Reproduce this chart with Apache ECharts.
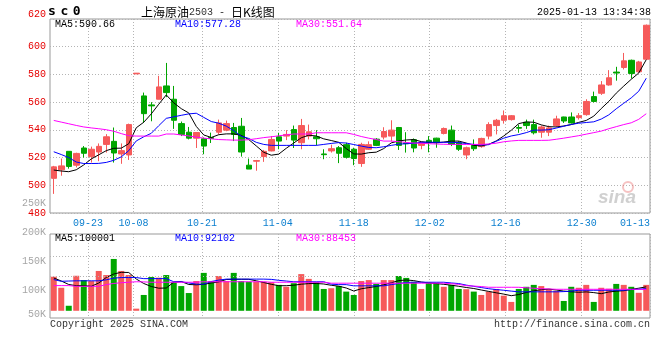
<!DOCTYPE html>
<html><head><meta charset="utf-8">
<script src="https://cdn.jsdelivr.net/npm/echarts@6/dist/echarts.min.js"></script>
<style>html,body{margin:0;padding:0;background:#fff}#c{width:660px;height:360px}</style>
</head><body><div id="c"></div>
<script>
const dates = ['09-12','09-13','09-18','09-19','09-20','09-23','09-24','09-25','09-26','09-27','09-30',
'10-08','10-09','10-10','10-11','10-14','10-15','10-16','10-17','10-18','10-21','10-22','10-23','10-24','10-25','10-28','10-29','10-30','10-31',
'11-01','11-04','11-05','11-06','11-07','11-08','11-11','11-12','11-13','11-14','11-15','11-18','11-19','11-20','11-21','11-22','11-25','11-26','11-27','11-28','11-29',
'12-02','12-03','12-04','12-05','12-06','12-09','12-10','12-11','12-12','12-13','12-16','12-17','12-18','12-19','12-20','12-23','12-24','12-25','12-26','12-27','12-30','12-31',
'01-02','01-03','01-06','01-07','01-08','01-09','01-10','01-13'];
const tickLabels = ['09-23','10-08','10-21','11-04','11-18','12-02','12-16','12-30','01-13'];

const open = [505,511.2,524.5,514.5,526.9,520.7,524,529.5,531.7,522.6,
521.9,580.4,564.5,558,562.1,571.7,562.1,544.5,538.3,534,
533.6,534.5,538.3,539.8,541.7,542.6,514.5,517.4,520.7,524.8,
535,535.5,540.2,530.7,535.5,535,522.6,524.8,527.1,529.3,
526,515.7,526,533.3,534.8,535.5,541.7,530.5,532.9,528.8,
532.4,534,537.4,539.8,530.7,521.9,528.8,527.9,535.5,543.1,
546.9,547.4,541.7,545.5,543.8,538.3,538.3,543.1,549.3,549.3,
548.8,551,564,566.4,572.4,581.7,585,590.2,581.9,591];
const close = [513.3,514,513.6,523,523.1,526,528.1,535,523.3,525,
543.8,580.9,551.7,557.3,571,566.9,546.9,536.7,534,538.1,
528.3,533.8,545,544.5,536.7,524,511.7,517.8,524.5,533.1,
531.9,536.7,532.6,543.1,538.6,533.6,522.1,526.4,523.1,520.2,
519.3,529.5,529.3,528.8,538.8,539.8,528.8,530,526.9,530.7,
530.7,530.7,541,529.5,526,527.1,526.4,533.8,543.8,546.9,
550.2,550.2,541.2,543.1,537.9,542.1,541.4,547.9,546.4,545,
550.2,560.5,560.5,572.4,577.6,581,589.8,580.7,589,615.5];
const low = [493.8,506.9,512,512.9,520,516.4,517.4,523.6,516.4,515.5,
518.3,580.4,545,546.2,562,563.6,540.7,535.5,533.1,526.9,
522.4,530.5,536.7,539,531.9,520.7,511.7,510.5,516.9,524.5,
526,532.6,526.9,526,533.1,528.8,518.8,523.6,516,519.3,
514.5,513.3,525.5,528.3,533.1,531.7,525.5,523.6,523.8,526,
523.8,527.1,536.7,528.3,524.8,518.8,524.8,527.1,533.1,536.7,
544.5,546.7,537.9,540.7,536.7,534.3,535.5,542.1,545,544.5,
547.4,550.2,559.8,565.2,571.9,575.5,583.6,577.1,581.4,590.5];
const high = [514,519.3,524.5,523.5,528.3,527.9,530.2,536.9,541.7,530.2,
544.5,580.9,566.9,560,579,588.3,571.7,546,542.1,538.3,
534.5,538,547.4,546.7,545,548.6,519.3,518.3,525.5,535.5,
537.9,539.8,543.1,547.9,543.8,539.8,526,529.3,528.3,530.7,
527.1,530.7,531.7,534,541.9,546.9,542.1,538.3,533.8,531.2,
535.5,534.3,541.7,543.1,531.9,527.9,533.1,534.3,545.5,547.9,
554,550.7,543.8,547.4,547.4,543.1,543.1,550.2,549.5,552.6,
552.1,562.1,567.6,575.2,583.1,585.5,595.5,590.7,589.8,616];

const ma5 = [511,510.3,509.8,511.2,514.7,519,522,525,526.7,526.8,
530,541.5,545.5,551.5,558.5,565.2,559.5,555.3,552.2,542.5,
536.3,534.5,536.5,537.1,537.1,536,533,528.4,523.8,521.7,
522.5,526.7,530.5,534.3,536.1,535.6,533.5,532.3,531,526.5,
522.6,522.5,523.5,523.9,526.5,530.6,532,532.7,533,531.5,
530.9,530.7,531.2,531.9,531.9,530.5,528.8,528.4,529.6,532,
535.6,539.7,544.5,545.7,545.5,543.6,542.3,542.1,542.8,543.8,
545.4,546.8,549.9,555.4,560.5,566.5,571.6,576.5,581,590.66];
const ma10 = [524.2,522.2,520,516.8,515.7,515.7,515.8,516.5,518,520.5,
525,532,535,537.5,543,548.3,549.4,550.5,551.5,552,
549,546,544.8,542.7,539.4,535.4,533.8,531,529.5,528.8,
528.8,528.8,528.8,528.8,528.8,528.8,529.5,530.2,530.8,530.5,
529.4,528.3,527.3,527.1,527.8,528.8,529.7,530,530.3,531,
531.1,531,531,531,530.8,530.1,529.5,529.1,529.3,531.8,
534,535.6,536.6,538,539.8,539.8,540.1,541.3,542.6,543.9,
544.8,545.3,545.8,547.8,550.8,555.2,559.2,563.1,567.9,577.28];
const ma30 = [546.8,545.6,544.4,543.2,542.1,541.4,540.8,540.1,539,537.3,
535.8,535.5,535.5,535.5,535.5,537,537,536.3,535.6,534.8,
534,533.5,533,532.8,532.6,532.6,532.9,533.6,534.4,535,
535.7,536.4,537,537,537,537.9,537.9,537.9,537.9,537.9,
536.7,535.2,534,533,531.9,531.9,531.5,530.9,530.5,530.3,
530,529.8,529.6,529.5,529.5,529.5,529.5,529.5,529.8,530.4,
531.4,532,532.4,532.4,532.4,532.4,532.5,533.2,534,534.9,
535.8,536.9,538,539.1,540.8,542.3,543.8,545.1,547.6,551.64];

const volume = [142000,96000,21000,146000,128000,124000,166000,149000,216000,166000,
149000,9000,66000,141000,138000,149000,119000,103000,74000,124000,
158000,124000,145000,124000,158000,124000,121000,121000,121000,119000,
108000,100000,115000,153000,133000,119000,91000,94000,103000,80000,
66000,124000,128000,112000,128000,128000,145000,137000,121000,91000,
117000,117000,100000,108000,91000,90000,80000,66000,80000,91000,
63000,37000,91000,100000,108000,103000,91000,83000,41000,100000,
96000,108000,37000,96000,92000,112000,108000,100000,75000,108000];
const volMa5 = [136700,124200,109600,104600,104600,102100,115800,138800,153300,160400,
159600,132500,113800,101300,94200,95000,119200,122100,109600,108300,
110400,115800,120400,130400,131300,131300,131300,125000,117900,110400,
104600,104600,106700,110800,113300,113800,111700,106300,102500,95000,
82500,91700,96700,101300,108300,116700,125800,128300,125800,120000,
116300,113300,110400,106700,102100,97100,92900,86700,80800,75000,
69600,62900,67900,76300,83300,87900,90400,86700,82100,79200,
77100,78800,75800,71300,78300,81700,83800,89200,94200,100001];
const volMa10 = [130000,123000,124000,125000,125000,125000,125000,129000,136000,138500,
138500,138500,134000,134000,134000,134000,121000,121000,116000,111000,
111000,122000,128000,132000,132000,132000,132000,132000,132000,131000,
127000,124000,121000,121000,121000,121000,121000,111000,109000,109000,
104000,104000,104000,104000,104000,109000,113500,118000,119000,119000,
119000,119000,119000,116000,113500,107000,102000,97000,92000,88500,
85600,82000,79000,79000,79000,79000,79000,79000,80000,82000,
85600,85600,85600,85600,85600,85600,85600,88500,90000,92102];
const volMa30 = [105000,105000,105000,102000,102000,102000,102000,109000,114000,117000,
119000,121000,120500,119000,119000,119000,119000,119000,119000,119000,
121000,121000,121000,121000,121000,121000,121000,121000,121000,119000,
119000,119000,119000,119000,119000,119000,119000,115000,115000,115000,
115000,115000,115000,115000,115000,115000,115000,115000,115000,115000,
115000,115000,115000,113000,110000,104600,103000,101000,98000,98000,
98000,98000,98000,96000,94000,92000,91000,89600,89600,89600,
89600,89600,89600,89600,89600,89600,89600,89600,89600,88453];

const UP = '#f65a5a', DOWN = '#00a600';
const MONO = '"Liberation Mono", "DejaVu Sans Mono", monospace';
const GRIDC = '#b4b4b4';
const labelSet = new Set(tickLabels);
const last = a => a[a.length - 1];

const candleData = dates.map((d, i) => [open[i], close[i], low[i], high[i]]);
const volData = volume.map((v, i) => ({ value: v, itemStyle: { color: close[i] >= open[i] ? UP : DOWN } }));

const hiddenCat = (gi, pos) => ({ type: 'category', gridIndex: gi, data: dates, boundaryGap: true, position: pos,
  axisLine: { show: false }, axisTick: { show: false }, axisLabel: { show: false }, splitLine: { show: false } });
const gridCat = (gi, showLabel) => ({ type: 'category', gridIndex: gi, data: dates, boundaryGap: false, position: 'bottom',
  axisLine: { show: false }, axisTick: { show: false },
  axisLabel: { show: showLabel, interval: (i, v) => labelSet.has(v), color: '#0b7fcf', fontFamily: MONO, fontSize: 10, margin: 5, alignMaxLabel: 'right' },
  splitLine: { show: true, interval: (i, v) => labelSet.has(v), lineStyle: { color: GRIDC, width: 1, type: [1, 2] } } });
const lineS = (xi, yi, data, color) => ({ type: 'line', xAxisIndex: xi, yAxisIndex: yi, data, symbol: 'none', showSymbol: false,
  silent: true, lineStyle: { width: 1, color }, itemStyle: { color }, z: 3 });
const txt = (x, y, text, fill, extra) => ({ type: 'text', x, y, silent: true, z: 10,
  style: Object.assign({ text, fill, font: '10px ' + MONO, align: 'left', verticalAlign: 'middle' }, extra || {}) });

const chart = echarts.init(document.getElementById('c'), null, { renderer: 'canvas' });
chart.setOption({
  animation: false,
  backgroundColor: '#ffffff',
  grid: [
    { left: 50, right: 10, top: 19, bottom: 147, show: true, borderColor: '#999', borderWidth: 1, outerBoundsMode: 'none', containLabel: false },
    { left: 50, right: 10, top: 234, bottom: 42, show: true, borderColor: '#999', borderWidth: 1, outerBoundsMode: 'none', containLabel: false },
    { left: 50, right: 10, top: 203, bottom: 41, show: false, outerBoundsMode: 'none', containLabel: false }
  ],
  xAxis: [
    hiddenCat(0, 'top'),
    gridCat(0, true),
    hiddenCat(1, 'top'),
    gridCat(1, false),
    { type: 'value', gridIndex: 2, min: 0, max: 1, show: false }
  ],
  yAxis: [
    { type: 'value', gridIndex: 0, min: 480, max: 620, interval: 20, scale: true,
      axisLine: { show: false }, axisTick: { show: false },
      axisLabel: { color: '#e60000', fontFamily: MONO, fontSize: 10, margin: 4, verticalAlignMaxLabel: 'bottom' },
      splitLine: { show: true, lineStyle: { color: GRIDC, width: 1, type: [1, 2] } } },
    { type: 'value', gridIndex: 1, min: -30000, max: 320000,
      axisLine: { show: false }, axisTick: { show: false }, axisLabel: { show: false }, splitLine: { show: false } },
    { type: 'value', gridIndex: 2, min: 50000, max: 250000, interval: 50000,
      axisLine: { show: false }, axisTick: { show: false }, splitLine: { show: false },
      axisLabel: { formatter: v => (v / 1000) + 'K', color: '#a6a6a6', fontFamily: MONO, fontSize: 10, margin: 4, verticalAlignMinLabel: 'bottom' } }
  ],
  series: [
    { type: 'candlestick', xAxisIndex: 0, yAxisIndex: 0, data: candleData, barWidth: 6, silent: true,
      itemStyle: { color: UP, color0: DOWN, borderColor: UP, borderColor0: DOWN, borderWidth: 1 } },
    lineS(0, 0, ma5, '#000000'),
    lineS(0, 0, ma10, '#0000ff'),
    lineS(0, 0, ma30, '#ff00ff'),
    { type: 'bar', xAxisIndex: 2, yAxisIndex: 1, data: volData, barWidth: 6, silent: true,
      markLine: { silent: true, symbol: 'none', label: { show: false },
        lineStyle: { color: GRIDC, width: 1, type: [1, 2] },
        data: [{ yAxis: 145000 }, { yAxis: 228000 }] } },
    lineS(2, 1, volMa5, '#000000'),
    lineS(2, 1, volMa10, '#0000ff'),
    lineS(2, 1, volMa30, '#ff00ff')
  ],
  graphic: [
    { type: 'text', x: 48, y: 12, silent: true, z: 10,
      style: { text: '{c|s}{c|c}{c|0}', verticalAlign: 'middle', align: 'left',
        rich: { c: { width: 12.4, align: 'left', font: 'bold 13px "DejaVu Sans Mono", monospace', fill: '#000' } } } },
    { type: 'text', x: 141, y: 12, silent: true, z: 10,
      style: { text: '{a|上海原油}{b|2503 - }{a|日K线图}', verticalAlign: 'middle', align: 'left',
        rich: { a: { font: '12px "Noto Sans CJK SC", sans-serif', fill: '#000' },
                b: { font: '10px ' + MONO, fill: '#333' } } } },
    txt(651, 12, '2025-01-13 13:34:38', '#000', { align: 'right' }),
    txt(55, 24, 'MA5:' + last(ma5).toFixed(2), '#000'),
    txt(175, 24, 'MA10:' + last(ma10).toFixed(2), '#0000ff'),
    txt(296, 24, 'MA30:' + last(ma30).toFixed(2), '#ff00ff'),
    txt(55, 238, 'MA5:' + last(volMa5), '#000'),
    txt(175, 238, 'MA10:' + last(volMa10), '#0000ff'),
    txt(296, 238, 'MA30:' + last(volMa30), '#ff00ff'),
    txt(50, 324, 'Copyright 2025 SINA.COM', '#333'),
    txt(650, 324, 'http://finance.sina.com.cn', '#333', { align: 'right' }),
    { type: 'circle', silent: true, z: 9, shape: { cx: 628, cy: 187, r: 5 },
      style: { fill: 'none', stroke: 'rgba(235,120,120,0.45)', lineWidth: 2 } },
    txt(598, 198, 'sina', 'rgba(150,150,150,0.45)', { font: 'italic bold 19px "Liberation Sans", sans-serif' })
  ]
});
</script>
</body></html>
